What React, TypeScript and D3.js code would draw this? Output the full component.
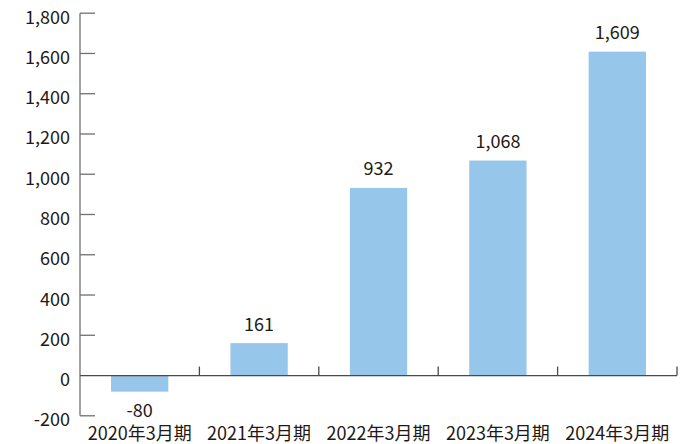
import React, { useEffect, useRef } from "react";
import * as d3 from "d3";

const categories = ["2020年3月期", "2021年3月期", "2022年3月期", "2023年3月期", "2024年3月期"];
const values = [-80, 161, 932, 1068, 1609];
const yTicks = [-200, 0, 200, 400, 600, 800, 1000, 1200, 1400, 1600, 1800];

const fmt = (v: number) => d3.format(",")(v).replace("−", "-");

export default function App() {
  const svgRef = useRef<SVGSVGElement>(null);

  useEffect(() => {
    if (!svgRef.current) return;
    const width = 690;
    const height = 444;
    const left = 80;
    const right = 677;
    const font = "'Noto Sans CJK JP', 'Noto Sans', sans-serif";
    const textColor = "#231815";
    const axisColor = "#707070";

    const svg = d3.select(svgRef.current);
    svg.selectAll("*").remove();

    const x = d3.scaleBand<string>()
      .domain(categories)
      .range([left, right])
      .paddingInner(0.52)
      .paddingOuter(0.26);
    const step = x.step();

    const y = d3.scaleLinear().domain([-200, 1800]).range([415.8, 13.2]);

    // bars
    svg.selectAll(".bar")
      .data(values)
      .enter()
      .append("rect")
      .attr("x", (d, i) => x(categories[i])!)
      .attr("width", x.bandwidth())
      .attr("y", d => y(Math.max(0, d)))
      .attr("height", d => Math.abs(y(d) - y(0)))
      .attr("fill", "#96c6e9");

    // y axis line + ticks
    svg.append("line")
      .attr("x1", left).attr("x2", left)
      .attr("y1", y(1800)).attr("y2", y(-200))
      .attr("stroke", axisColor).attr("stroke-width", 1.3);

    yTicks.forEach(t => {
      if (t !== 0) {
        svg.append("line")
          .attr("x1", left).attr("x2", left + 15)
          .attr("y1", y(t)).attr("y2", y(t))
          .attr("stroke", axisColor).attr("stroke-width", 1.3);
      }
      svg.append("text")
        .attr("x", 70)
        .attr("y", y(t) + 10.5)
        .attr("text-anchor", "end")
        .style("font-family", font)
        .style("font-size", "18px")
        .style("fill", textColor)
        .text(fmt(t));
    });

    // zero line
    svg.append("line")
      .attr("x1", left).attr("x2", right)
      .attr("y1", y(0)).attr("y2", y(0))
      .attr("stroke", "#4a4a4a").attr("stroke-width", 1.3);

    // category boundary ticks
    categories.forEach((c, i) => {
      const bx = left + step * (i + 1);
      svg.append("line")
        .attr("x1", bx).attr("x2", bx)
        .attr("y1", y(0)).attr("y2", y(0) - 9)
        .attr("stroke", "#4a4a4a").attr("stroke-width", 1.3);
    });

    // category labels
    svg.selectAll(".cat")
      .data(categories)
      .enter()
      .append("text")
      .attr("x", d => x(d)! + x.bandwidth() / 2)
      .attr("y", 439.5)
      .attr("text-anchor", "middle")
      .style("font-family", font)
      .style("font-size", "18px")
      .style("fill", textColor)
      .text(d => d);

    // value labels
    svg.selectAll(".val")
      .data(values)
      .enter()
      .append("text")
      .attr("x", (d, i) => x(categories[i])! + x.bandwidth() / 2)
      .attr("y", d => (d >= 0 ? y(d) - 12.5 : y(d) + 25))
      .attr("text-anchor", "middle")
      .style("font-family", font)
      .style("font-size", "18px")
      .style("fill", textColor)
      .text(d => fmt(d));

    svg.attr("width", width).attr("height", height);
  }, []);

  return (
    <svg
      ref={svgRef}
      width={690}
      height={444}
      style={{ position: "absolute", left: 0, top: 0, background: "#fff" }}
    />
  );
}
